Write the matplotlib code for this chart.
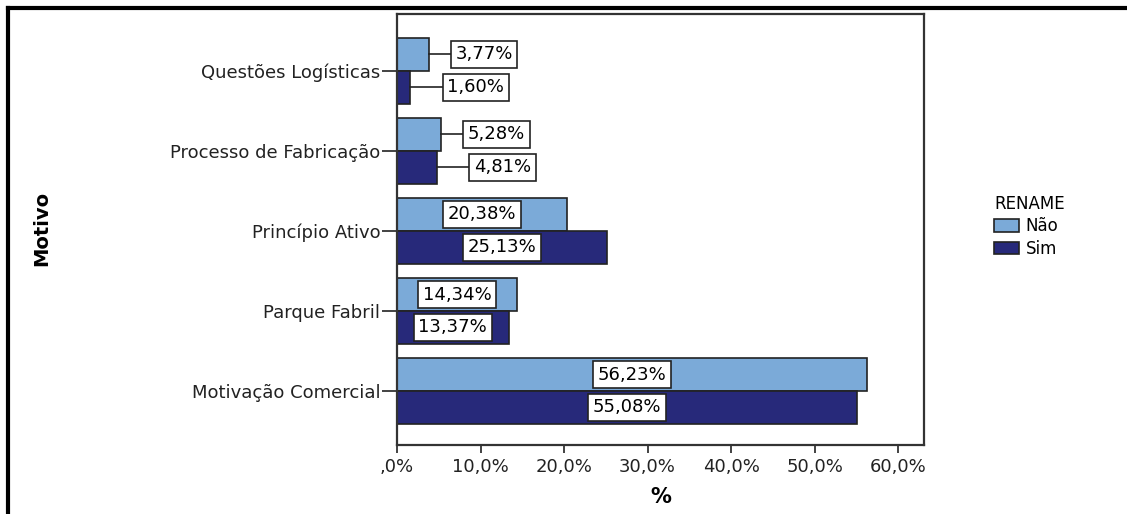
import numpy as np
import matplotlib
matplotlib.use("Agg")
import matplotlib.pyplot as plt
from matplotlib.lines import Line2D

motivos = ["Questões Logísticas", "Processo de Fabricação", "Princípio Ativo",
           "Parque Fabril", "Motivação Comercial"]
nao = [3.77, 5.28, 20.38, 14.34, 56.23]
sim = [1.60, 4.81, 25.13, 13.37, 55.08]
xticks = [0, 10, 20, 30, 40, 50, 60]
xtick_labels = [",0%", "10,0%", "20,0%", "30,0%", "40,0%", "50,0%", "60,0%"]

plt.rcParams["font.family"] = ["DejaVu Sans"]

fig = plt.figure(figsize=(11.27, 5.14), dpi=100)
ax = fig.add_axes([0.3523, 0.1342, 0.4676, 0.8386])

y = np.arange(len(motivos))
h = 0.41
c_nao = "#7BAAD8"
c_sim = "#27297A"

ax.barh(y - h / 2, nao, height=h, color=c_nao, edgecolor="#222222", linewidth=1.2, label="Não")
ax.barh(y + h / 2, sim, height=h, color=c_sim, edgecolor="#222222", linewidth=1.2, label="Sim")

box = dict(boxstyle="square,pad=0.25", fc="white", ec="#222222", lw=1.2)

def label(val, yy, gap):
    txt = f"{val:.2f}%".replace(".", ",")
    if val < 10:
        # small bars: label outside with a leader line
        x0 = val + gap
        ax.add_line(Line2D([val, x0], [yy, yy], color="#222222", lw=1.2))
        ax.text(x0, yy, txt, ha="left", va="center", fontsize=13, bbox=box)
    else:
        ax.text(val / 2, yy, txt, ha="center", va="center", fontsize=13, bbox=box)

for i in range(len(motivos)):
    label(nao[i], y[i] - h / 2, 3.2)
    label(sim[i], y[i] + h / 2, 4.4)

ax.set_xlim(0, 63.1)
ax.set_ylim(4.675, -0.71)
ax.set_yticks(y)
ax.set_yticklabels(motivos, fontsize=13, color="#222222")
ax.set_xticks(xticks)
ax.set_xticklabels(xtick_labels, fontsize=13, color="#222222")
ax.tick_params(axis="y", length=11, width=1.2, color="#222222", pad=1)
ax.tick_params(axis="x", length=6, width=1.2, color="#222222", pad=3)
for s in ax.spines.values():
    s.set_color("#333333")
    s.set_linewidth(1.6)

ax.set_xlabel("%", fontsize=15, fontweight="bold", labelpad=8)
fig.text(0.037, 0.556, "Motivo", rotation=90, ha="center", va="center",
         fontsize=14, fontweight="bold")

leg = ax.legend(title="RENAME", loc="upper left", bbox_to_anchor=(1.12, 0.595),
                frameon=False, fontsize=12, title_fontsize=12,
                handlelength=1.5, handleheight=0.75, handletextpad=0.4,
                labelspacing=0.25, borderaxespad=0)
leg._legend_box.align = "left"
for p in leg.get_patches():
    p.set_edgecolor("#222222")

# outer frame lines
fig.add_artist(Line2D([0.007, 1.0], [0.984, 0.984], color="black", lw=3,
                      transform=fig.transFigure))
fig.add_artist(Line2D([0.007, 0.007], [0.0, 0.984], color="black", lw=3,
                      transform=fig.transFigure))

fig.savefig("out.png", dpi=100)
